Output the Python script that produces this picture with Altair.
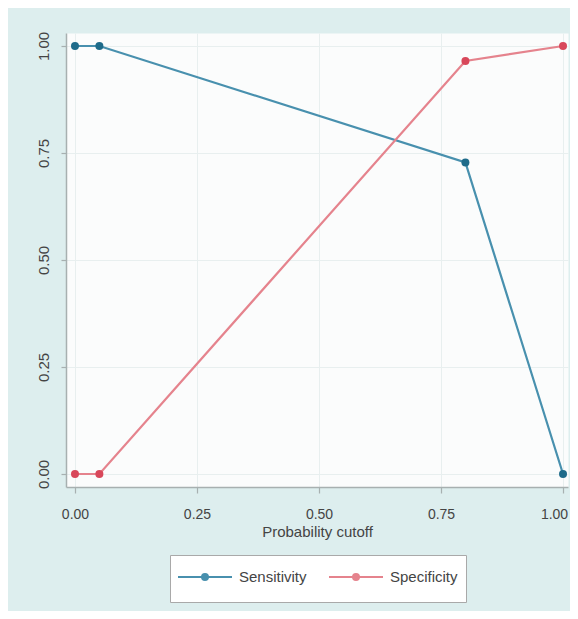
import altair as alt
import pandas as pd

# ---- data ----
cutoffs = [0.0, 0.05, 0.8, 1.0]
sensitivity = [1.0, 1.0, 0.728, 0.0]
specificity = [0.0, 0.0, 0.965, 1.0]
series_names = ["Sensitivity", "Specificity"]
x_ticks = [0.0, 0.25, 0.5, 0.75, 1.0]
y_ticks = [0.0, 0.25, 0.5, 0.75, 1.0]

line_colors = ["#4890ae", "#e5838d"]
marker_colors = ["#1e6b8a", "#d8475a"]

rows = []
for c, s, p in zip(cutoffs, sensitivity, specificity):
    rows.append({"cutoff": c, "value": s, "series": series_names[0]})
    rows.append({"cutoff": c, "value": p, "series": series_names[1]})
df = pd.DataFrame(rows)

FONT = "Liberation Sans"
AX_COL = "#a7b0b0"
GRID_COL = "#e8efef"
TXT_COL = "#444444"

# legend symbol: a line with a dot (concentric rings draw a filled dot)
r1, r2 = 1 / 13, 3 / 13
L = 27 / 13
sym_path = (
    f"M{-L:.4f},0H{L:.4f}"
    f"M{-r1:.4f},0A{r1:.4f},{r1:.4f} 0 1,0 {r1:.4f},0A{r1:.4f},{r1:.4f} 0 1,0 {-r1:.4f},0Z"
    f"M{-r2:.4f},0A{r2:.4f},{r2:.4f} 0 1,0 {r2:.4f},0A{r2:.4f},{r2:.4f} 0 1,0 {-r2:.4f},0Z"
    "M0,-1M0,1"
)

x_enc = alt.X(
    "cutoff:Q",
    scale=alt.Scale(domain=[-0.0184, 1.0102], nice=False, zero=False),
    axis=alt.Axis(
        values=x_ticks, format=".2f", title="Probability cutoff",
        titleFont=FONT, titleFontSize=15, titleFontWeight="normal", titleColor=TXT_COL,
        titlePadding=3,
        labelFont=FONT, labelFontSize=14, labelColor=TXT_COL, labelPadding=14,
        labelOffset={"condition": {"test": "datum.value == 1", "value": -9}, "value": 0},
        labelFlush=False, tickSize=6, tickColor=AX_COL, domainColor=AX_COL,
        domainWidth=1.5, tickWidth=1.2, gridColor=GRID_COL, gridWidth=1,
    ),
)
y_enc = alt.Y(
    "value:Q",
    scale=alt.Scale(domain=[-0.0304, 1.0304], nice=False, zero=False),
    axis=alt.Axis(
        values=y_ticks, format=".2f", title=None, labelAngle=270,
        labelFont=FONT, labelFontSize=15, labelColor=TXT_COL, labelPadding=10,
        labelFlush=False, tickSize=5, tickColor=AX_COL, domainColor=AX_COL,
        domainWidth=1.5, tickWidth=1.2, gridColor=GRID_COL, gridWidth=1,
    ),
)

lines = alt.Chart(df).mark_line(strokeWidth=2.2).encode(
    x=x_enc,
    y=y_enc,
    stroke=alt.Stroke(
        "series:N",
        scale=alt.Scale(domain=series_names, range=line_colors),
        legend=alt.Legend(
            title=None, orient="none", legendX=104, legendY=522,
            direction="horizontal", columns=2,
            symbolType=sym_path, symbolSize=676, symbolStrokeWidth=2,
            symbolOffset=13, labelOffset=20,
            labelFont=FONT, labelFontSize=15, labelColor=TXT_COL,
            padding=8, strokeColor="#a9a9a9", fillColor="#ffffff",
            columnPadding=18,
        ),
    ),
)

points = alt.Chart(df).mark_circle(size=64, opacity=1).encode(
    x=alt.X("cutoff:Q"),
    y=alt.Y("value:Q"),
    fill=alt.Fill(
        "series:N",
        scale=alt.Scale(domain=series_names, range=marker_colors),
        legend=None,
    ),
)

chart = (
    alt.layer(lines, points)
    .properties(
        width=502,
        height=454,
        autosize=alt.AutoSizeParams(type="none"),
        padding={"left": 58, "top": 25, "right": 2, "bottom": 124},
        background="#ddeeee",
    )
    .configure_view(fill="#fbfcfc", stroke="transparent")
)

chart.save("out.html", embed_options={"renderer": "svg", "actions": False})
